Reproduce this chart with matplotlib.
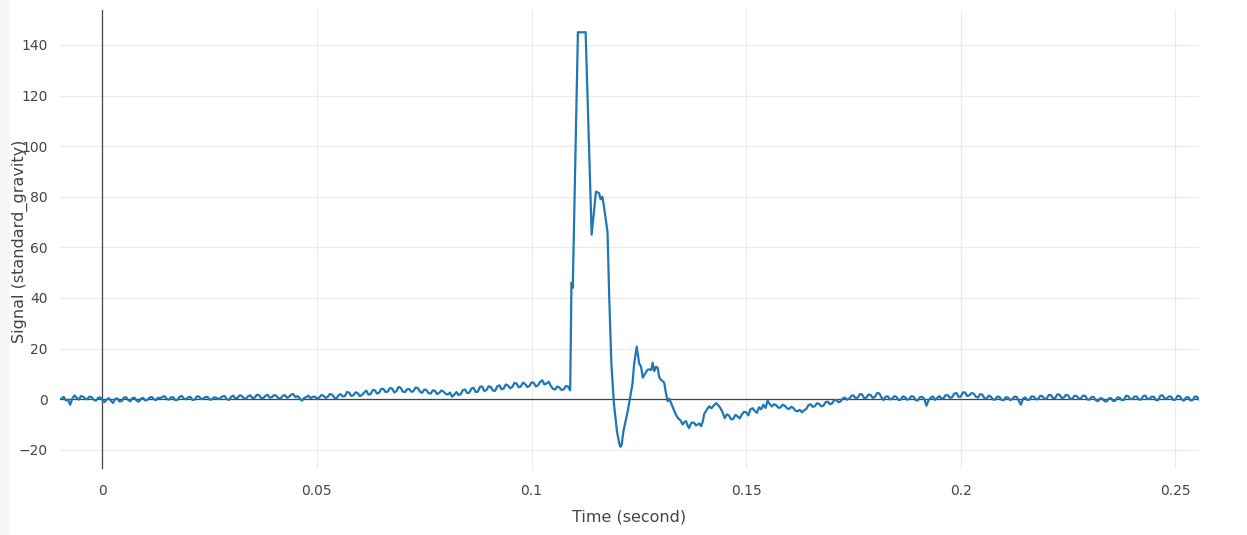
import numpy as np
import matplotlib
matplotlib.use("Agg")
import matplotlib.pyplot as plt
from matplotlib.patches import Rectangle

# ---- data ----
# baseline before the impact, sampled every 0.5 ms from t = -0.0095 s
pre_t0 = -0.0095
pre_dt = 0.0005
pre_signal = [
    0.3, 0.9, -0.5, -0.2, -2.2, 0.2, 1.5, 0.6, -0.2, 1.2, 1.0, 0.2, 0.0, 1.0, 0.8, -0.2, -0.6, 0.5, 0.7, -0.3,
    -1.2, -0.2, 0.4, -0.6, -1.5, 0.1, 0.3, -0.9, -0.8, 0.6, 0.8, -0.3, -0.9, 0.4, 0.6, -0.6, -1.0, 0.2, 0.5, -0.5,
    -0.3, 0.6, 0.9, 0.0, -0.4, 0.6, 0.3, 0.9, 1.2, 0.1, -0.2, 0.7, 0.8, -0.4, -0.3, 0.9, 1.3, 0.2, 0.0, 0.7,
    0.9, -0.3, -0.2, 1.0, 1.1, 0.1, 0.2, 0.8, 0.9, -0.2, -0.1, 0.7, 0.6, 0.0, 0.4, 1.1, 1.2, 0.0, -0.3, 0.9,
    1.4, 0.3, 0.5, 1.5, 1.3, 0.2, 0.3, 1.2, 1.5, 0.4, 0.6, 1.7, 1.6, 0.5, 0.4, 1.3, 1.7, 0.6, 0.8, 1.6,
    1.4, 0.4, 0.2, 1.3, 1.6, 0.6, 0.9, 1.8, 2.0, 0.8, 1.2, 0.3, -0.6, 0.4, 0.8, 1.4, 0.3, 0.9, 1.0, 0.2,
    0.6, 1.6, 1.4, 0.5, 0.9, 2.0, 1.8, 0.7, 0.2, 1.5, 2.0, 1.1, 1.2, 2.8, 2.6, 1.3, 1.5, 2.7, 2.4, 1.2,
    1.7, 2.6, 3.4, 1.8, 2.0, 3.6, 3.5, 2.2, 2.6, 4.1, 4.0, 2.8, 3.0, 4.4, 4.2, 2.7, 3.1, 4.8, 4.5, 3.0,
    2.8, 3.9, 4.0, 2.9, 3.2, 4.6, 4.4, 3.0, 2.5, 3.8, 3.6, 2.4, 2.2, 3.5, 3.3, 2.0, 2.5, 3.4, 3.0, 2.1,
    1.8, 2.6, 1.0, 1.8, 2.8, 1.6, 2.0, 3.6, 3.8, 2.4, 2.6, 4.2, 4.5, 2.8, 3.0, 4.9, 5.0, 3.2, 3.6, 5.1,
    4.8, 3.4, 3.3, 5.0, 5.5, 3.9, 4.2, 5.8, 5.4, 4.3, 4.8, 6.4, 6.2, 4.7, 5.0, 6.5, 6.0, 4.8, 5.2, 6.6,
    6.5, 5.0, 5.5, 6.8, 7.5, 5.8, 6.2, 6.9, 5.2, 4.1, 3.8, 5.0, 4.6, 3.6, 3.9, 5.2, 5.0,
]

# impact pulse (irregular sample times)
pulse_time = [
    0.1090, 0.1093, 0.1096, 0.1108, 0.1126, 0.1140, 0.1150, 0.1157,
    0.1161, 0.1165, 0.1168, 0.1177, 0.1181, 0.1186, 0.1192, 0.1199,
    0.1204, 0.1207, 0.1210, 0.1214, 0.1224, 0.1235, 0.1239, 0.1245,
    0.1251, 0.1255, 0.1259, 0.1263, 0.1266, 0.1270, 0.1274, 0.1279,
    0.1282, 0.1286, 0.1290, 0.1294, 0.1297, 0.1300, 0.1305, 0.1309,
    0.1313, 0.1317, 0.1321, 0.1325, 0.1331, 0.1336, 0.1341, 0.1345,
    0.1348, 0.1352, 0.1356, 0.1360, 0.1364, 0.1367, 0.1371, 0.1374,
    0.1379, 0.1383, 0.1387, 0.1391, 0.1395, 0.1399, 0.1402, 0.1408,
    0.1414, 0.1419, 0.1424,
]
pulse_signal = [
    3.5, 46.0, 44.0, 145.0, 145.0, 65.0, 82.0, 81.5,
    79.0, 80.0, 77.0, 66.0, 40.0, 14.0, -2.0, -12.7,
    -17.3, -18.8, -18.0, -12.7, -4.8, 5.9, 13.9, 20.8,
    13.9, 13.0, 8.5, 9.6, 10.4, 11.6, 11.8, 11.5,
    14.4, 11.1, 12.8, 12.4, 9.0, 7.9, 7.2, 6.5,
    2.5, -0.8, 0.2, -1.5, -4.0, -6.0, -7.5, -8.0,
    -8.7, -10.0, -9.0, -8.7, -10.6, -11.4, -9.8, -9.2,
    -9.4, -10.4, -10.0, -9.6, -10.7, -8.8, -6.0, -4.2,
    -2.8, -3.6, -2.6,
]

# recovery and baseline after the impact, every 0.5 ms from t = 0.143 s
post_t0 = 0.143
post_dt = 0.0005
post_signal = [
    -1.6, -2.4, -3.5, -5.2, -7.5, -6.0, -6.5, -8.0, -7.8, -6.2, -6.8, -7.6, -6.0, -5.0, -5.2, -6.4, -4.0, -3.6, -4.6, -5.4,
    -3.2, -4.0, -2.2, -3.5, -0.6, -2.0, -2.9, -2.0, -2.4, -3.4, -3.3, -2.2, -2.6, -3.6, -3.9, -3.0, -3.5, -4.6, -4.8, -4.2,
    -5.2, -4.4, -3.9, -2.4, -2.0, -3.0, -2.8, -1.6, -1.9, -2.8, -2.6, -1.2, -1.0, -2.0, -1.7, -0.4, -0.3, -1.2, -0.9, 0.3,
    0.6, -0.2, 0.2, 1.3, 1.5, 0.3, 0.7, 2.0, 1.9, 0.4, 0.6, 1.8, 1.7, 0.5, 0.9, 2.4, 2.3, 0.8, -0.4, 1.0,
    1.1, -0.1, 0.2, 1.2, 0.9, -0.3, -0.2, 1.1, 0.8, -0.2, 0.1, 1.2, 1.0, -0.4, -0.5, 0.8, 0.9, 0.2, -2.6, -0.4,
    0.6, 1.1, -0.3, 0.5, 1.2, 0.2, 0.4, 1.6, 1.5, 0.5, 0.8, 2.2, 2.4, 0.9, 1.0, 2.7, 2.6, 1.2, 1.5, 2.4,
    2.2, 1.0, 0.6, 2.0, 1.8, 0.4, 0.2, 1.4, 1.0, -0.1, -0.2, 1.0, 0.9, -0.3, -0.4, 0.8, 0.6, -0.4, 0.0, 1.0,
    0.9, -0.6, -2.2, 0.2, 0.7, -0.3, -0.2, 1.1, 1.0, 0.0, 0.0, 1.3, 1.2, 0.1, 0.3, 1.6, 1.6, 0.4, 0.5, 1.9,
    1.8, 0.5, 0.6, 1.7, 1.5, 0.1, 0.2, 1.4, 1.2, 0.2, 0.4, 1.4, 1.3, -0.1, -0.2, 0.9, 0.8, -0.5, -0.8, 0.4,
    0.2, -0.8, -0.9, 0.3, 0.4, -0.7, -0.6, 0.7, 0.6, -0.4, -0.3, 1.3, 1.2, 0.0, 0.1, 1.1, 1.0, -0.1, -0.2, 1.2,
    1.4, 0.0, 0.2, 1.0, 0.9, -0.4, -0.3, 1.4, 1.5, 0.2, 0.3, 1.1, 1.0, -0.3, -0.2, 1.3, 1.2, -0.1, -0.6, 0.7,
    0.8, -0.5, -0.4, 1.0, 1.0, -0.2, -0.3, 0.6, 0.5,
]

x_ticks = [0, 0.05, 0.1, 0.15, 0.2, 0.25]
x_tick_labels = ["0", "0.05", "0.1", "0.15", "0.2", "0.25"]
y_ticks = [-20, 0, 20, 40, 60, 80, 100, 120, 140]
y_tick_labels = ["\u221220", "0", "20", "40", "60", "80", "100", "120", "140"]

x_label = "Time (second)"
y_label = "Signal (standard_gravity)"

# ---- assemble series ----
pre_time = pre_t0 + pre_dt * np.arange(len(pre_signal))
post_time = post_t0 + post_dt * np.arange(len(post_signal))
time = np.concatenate([pre_time, pulse_time, post_time])
signal = np.concatenate([pre_signal, pulse_signal, post_signal])

# ---- figure ----
plt.rcParams["font.family"] = ["DejaVu Sans"]
W, H = 1247, 535
fig = plt.figure(figsize=(W / 100, H / 100), dpi=100)
fig.patch.set_facecolor("white")
fig.add_artist(Rectangle((0, 0), 10 / W, 1, transform=fig.transFigure,
                         facecolor="#f5f6f9", edgecolor="none", zorder=0))

left, right, top, bottom = 60, 1199, 10, 469
ax = fig.add_axes([left / W, 1 - bottom / H, (right - left) / W, (bottom - top) / H])
ax.set_facecolor("white")

ax.plot(time, signal, color="#1f77b4", lw=1.6, zorder=3, solid_joinstyle="round")
ax.axhline(0, color="#444444", lw=0.9, zorder=2)
ax.axvline(0, color="#444444", lw=0.9, zorder=2)

ax.set_xlim(-0.00986, 0.2555)
ax.set_ylim(-27.6, 153.8)
ax.set_xticks(x_ticks)
ax.set_xticklabels(x_tick_labels)
ax.set_yticks(y_ticks)
ax.set_yticklabels(y_tick_labels)
ax.grid(True, color="#ebebeb", lw=0.8, zorder=1)
ax.set_axisbelow(True)
for s in ax.spines.values():
    s.set_visible(False)
ax.tick_params(axis="both", length=0, labelsize=10, colors="#444444")
ax.tick_params(axis="x", pad=10.5)
ax.tick_params(axis="y", pad=9)

fig.text(629 / W, 1 - 517 / H, x_label, ha="center", va="center",
         fontsize=11.5, color="#444444")
fig.text(20 / W, 1 - 241 / H, y_label, ha="center", va="center",
         rotation=90, fontsize=11.5, color="#444444")

fig.savefig("out.png", dpi=100, facecolor="white")
